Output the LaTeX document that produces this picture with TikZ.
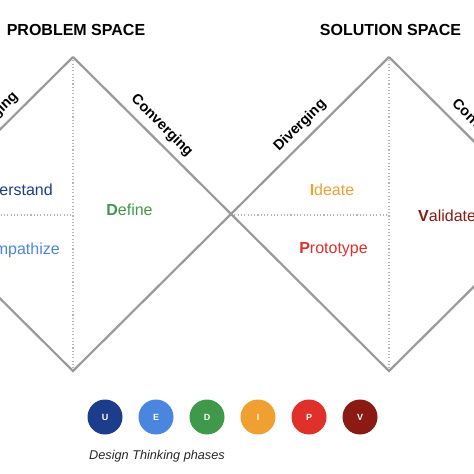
\documentclass[tikz,border=0pt]{standalone}
\usepackage{fontspec}
\setmainfont{Liberation Sans}
\definecolor{edgegray}{HTML}{9A9A9A}
\definecolor{dotgray}{HTML}{B4B4B4}
\definecolor{cU}{HTML}{1C3C8C}
\definecolor{cE}{HTML}{4A86E0}
\definecolor{cD}{HTML}{3E9A4A}
\definecolor{cI}{HTML}{F0A030}
\definecolor{cP}{HTML}{E0302A}
\definecolor{cV}{HTML}{8A1A12}
\tikzset{
  edgeline/.style={draw=edgegray, line width=2.2pt, line join=miter},
  dotline/.style={draw=dotgray, line width=1.1pt, dash pattern=on 1.1pt off 2.2pt},
  heading/.style={font=\fontsize{16}{18}\selectfont\bfseries, text=black},
  slopelabel/.style={font=\fontsize{14.5}{16}\selectfont\bfseries, text=black, sloped, above=6pt, inner sep=0pt},
  phase/.style={font=\fontsize{16}{18}\selectfont, inner sep=0pt},
  dot/.style={circle, minimum size=35pt, inner sep=0pt, text=white, font=\fontsize{9}{10}\selectfont\bfseries},
  caption/.style={font=\fontsize{12.7}{14}\selectfont\itshape, text=black!85}
}
\begin{document}
\begin{tikzpicture}[x=1pt,y=-1pt]
\useasboundingbox (0,0) rectangle (474,474);
\clip (0,0) rectangle (474,474);
% key points
\coordinate (LT) at (73,57);
\coordinate (LB) at (73,371);
\coordinate (LL) at (-85,214);
\coordinate (C) at (231,214);
\coordinate (RT) at (389,57);
\coordinate (RB) at (389,371);
\coordinate (RR) at (547,214);
\coordinate (LH) at (-85,215);
\coordinate (LHe) at (73,215);
\coordinate (RH) at (231,215);
\coordinate (RHe) at (389,215);
% dotted guides
\draw[dotline] (LT) -- (LB);
\draw[dotline] (RT) -- (RB);
\draw[dotline] (LH) -- (LHe);
\draw[dotline] (RH) -- (RHe);
% diamonds
\draw[edgeline] (LL) -- (LT) node[slopelabel, pos=0.55] (dl) {Diverging};
\draw[edgeline] (LT) -- (C) node[slopelabel, pos=0.5] (cl) {Converging};
\draw[edgeline] (C) -- (LB) -- (LL);
\draw[edgeline] (C) -- (RT) node[slopelabel, pos=0.5] (dr) {Diverging};
\draw[edgeline] (RT) -- (RR) node[slopelabel, pos=0.53] (cr) {Converging};
\draw[edgeline] (RR) -- (RB) -- (C);
% headings
\node[heading] (ps) at (76,30) {PROBLEM SPACE};
\node[heading] (ss) at (390.5,30) {SOLUTION SPACE};
% phases
\node[phase, anchor=east, text=cU] (und) at (53,190) {\textbf{U}nderstand};
\node[phase, anchor=east, text=cE] (emp) at (60,250) {\textbf{E}mpathize};
\node[phase, text=cD] (def) at (129.5,210) {\textbf{D}efine};
\node[phase, text=cI] (ide) at (332,190) {\textbf{I}deate};
\node[phase, text=cP] (pro) at (333.5,250) {\textbf{P}rototype};
\node[phase, anchor=west, text=cV] (val) at (418,216) {\textbf{V}alidate};
% legend dots
\node[dot, fill=cU] (u) at (105,417) {U};
\node[dot, fill=cE] (e) at (156,417) {E};
\node[dot, fill=cD] (d) at (207,417) {D};
\node[dot, fill=cI] (i) at (258,417) {I};
\node[dot, fill=cP] (p) at (309,417) {P};
\node[dot, fill=cV] (v) at (360,417) {V};
\node[caption] (cap) at (157,456) {Design Thinking phases};
\end{tikzpicture}
\end{document}
